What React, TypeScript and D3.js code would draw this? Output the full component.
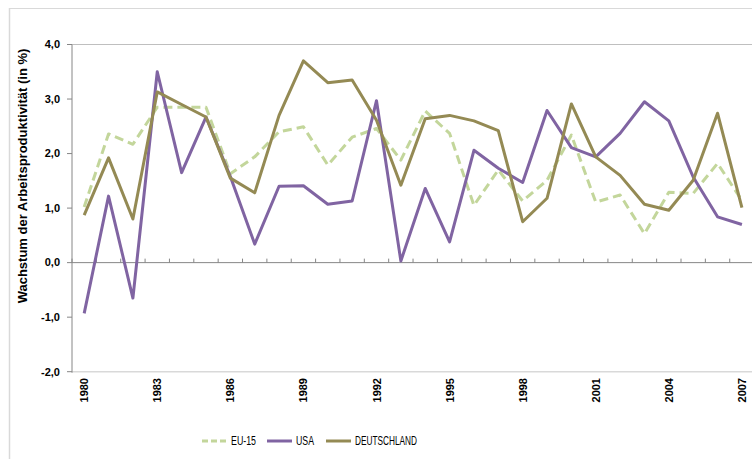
import React from "react";
import * as d3 from "d3";

const years = d3.range(1980, 2008);
const eu15 = [1.02, 2.36, 2.17, 2.85, 2.85, 2.85, 1.63, 1.94, 2.4, 2.49, 1.79, 2.3, 2.46, 1.88, 2.78, 2.37, 1.05, 1.7, 1.13, 1.51, 2.34, 1.11, 1.24, 0.53, 1.29, 1.27, 1.82, 1.14];
const usa = [-0.93, 1.22, -0.65, 3.5, 1.65, 2.67, 1.58, 0.34, 1.4, 1.41, 1.07, 1.13, 2.97, 0.03, 1.36, 0.38, 2.06, 1.73, 1.47, 2.79, 2.11, 1.94, 2.37, 2.95, 2.6, 1.57, 0.84, 0.7];
const deutschland = [0.87, 1.92, 0.8, 3.13, 2.9, 2.67, 1.55, 1.28, 2.7, 3.7, 3.3, 3.35, 2.61, 1.42, 2.64, 2.7, 2.6, 2.42, 0.75, 1.18, 2.91, 1.94, 1.6, 1.07, 0.96, 1.51, 2.74, 1.01];
const yTicks = [-2, -1, 0, 1, 2, 3, 4];
const yLabels = ["-2,0", "-1,0", "0,0", "1,0", "2,0", "3,0", "4,0"];
const labelYears = [1980, 1983, 1986, 1989, 1992, 1995, 1998, 2001, 2004, 2007];
const seriesNames = ["EU-15", "USA", "DEUTSCHLAND"];
const seriesColors = ["#C3D69B", "#8064A2", "#948A54"];

export default function App() {
  const W = 752, H = 459;
  const left = 72, catW = 24.36;
  const x = d3.scaleBand<number>().domain(years).range([left, left + catW * years.length]);
  const y = d3.scaleLinear().domain([-2, 4]).range([371.7, 44.5]);
  const cx = (yr: number) => (x(yr) as number) + x.bandwidth() / 2;
  const line = (vals: number[]) =>
    d3.line<number>().x((_, i) => cx(years[i])).y((v) => y(v))(vals) as string;
  const series = [eu15, usa, deutschland];
  const font = "'Liberation Sans', Arial, sans-serif";
  const legendX = [202, 267, 326];
  const legendTextX = [231, 296, 355];
  const legendLen = [25, 18, 62];
  const legendY = 441;

  return (
    <svg width={W} height={H} style={{ position: "absolute", left: 0, top: 0 }} fontFamily={font}>
      <rect x={0} y={0} width={W} height={H} fill="#fff" />
      {/* outer chart border */}
      <line x1={9} x2={W} y1={8.5} y2={8.5} stroke="#d9d9d9" strokeWidth={1} />
      <line x1={9.5} x2={9.5} y1={8} y2={H} stroke="#d9d9d9" strokeWidth={1.5} />
      {/* plot area top & bottom */}
      <line x1={left} x2={W} y1={y(4)} y2={y(4)} stroke="#BFBFBF" strokeWidth={1} />
      <line x1={left} x2={W} y1={y(-2)} y2={y(-2)} stroke="#D9D9D9" strokeWidth={1.5} />
      {/* y axis */}
      <line x1={left} x2={left} y1={y(4)} y2={y(-2) + 1} stroke="#868686" strokeWidth={1} />
      {yTicks.map((t, i) => (
        <g key={t}>
          <line x1={left - 5} x2={left} y1={y(t)} y2={y(t)} stroke="#868686" />
          <text x={60} y={y(t)} dy="0.35em" textAnchor="end" fontSize={11} fontWeight="bold" fill="#000">
            {yLabels[i]}
          </text>
        </g>
      ))}
      {/* zero axis */}
      <line x1={left} x2={W} y1={y(0)} y2={y(0)} stroke="#868686" strokeWidth={1} />
      {years.map((yr) => (
        <line key={yr} x1={(x(yr) as number)} x2={(x(yr) as number)} y1={y(0)} y2={y(0) - 4} stroke="#868686" />
      ))}
      {/* x labels */}
      {labelYears.map((yr) => (
        <text key={yr} transform={`translate(${cx(yr) + 4},${378}) rotate(-90)`} textAnchor="end" fontSize={11} fontWeight="bold" fill="#000">
          {yr}
        </text>
      ))}
      {/* y title */}
      <text transform={`translate(27,${176}) rotate(-90)`} textAnchor="middle" fontSize={13} fontWeight="bold" fill="#000">
        Wachstum der Arbeitsproduktivität  (in %)
      </text>
      {/* series */}
      {series.map((s, i) => (
        <path key={i} d={line(s)} fill="none" stroke={seriesColors[i]} strokeWidth={3}
          strokeDasharray={i === 0 ? "9,5" : undefined} strokeLinejoin="round" />
      ))}
      {/* legend */}
      {seriesNames.map((n, i) => (
        <g key={n}>
          <line x1={legendX[i]} x2={legendX[i] + 25} y1={legendY} y2={legendY} stroke={seriesColors[i]} strokeWidth={3}
            strokeDasharray={i === 0 ? "6,3" : undefined} />
          <text x={legendTextX[i]} y={legendY} dy="0.35em" fontSize={12.5} textLength={legendLen[i]}
            lengthAdjust="spacingAndGlyphs" fill="#000">{n}</text>
        </g>
      ))}
    </svg>
  );
}
